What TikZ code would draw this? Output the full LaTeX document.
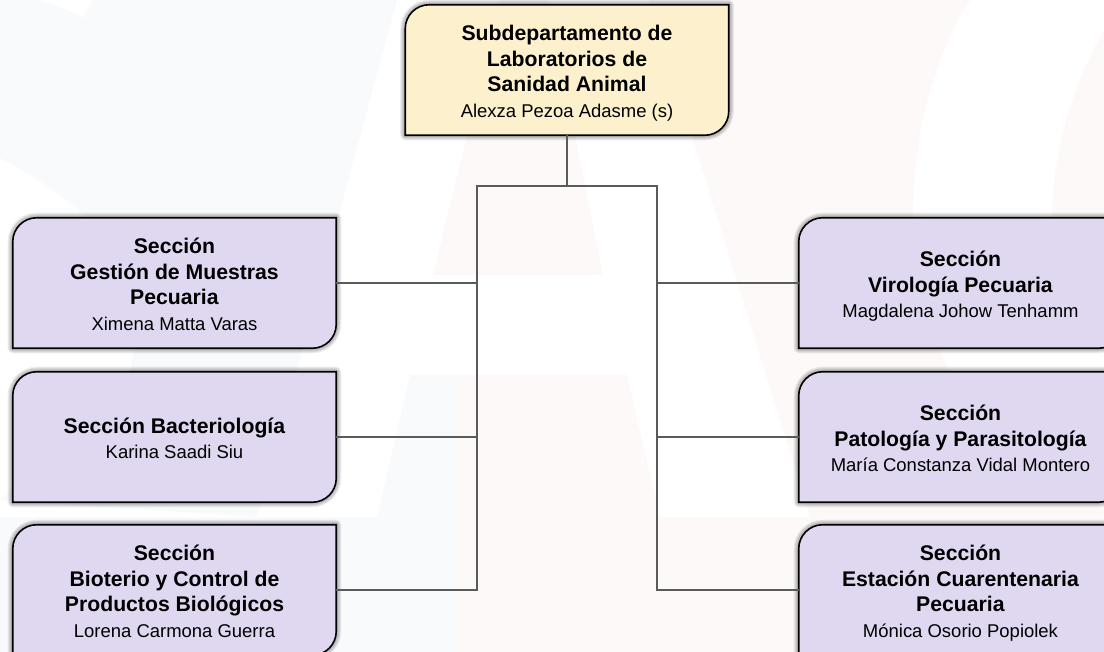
\documentclass[tikz,border=0pt]{standalone}
\usepackage{fontspec}
\setmainfont{Liberation Sans}
\usetikzlibrary{backgrounds}
\definecolor{lila}{HTML}{DFD8F0}
\definecolor{crema}{HTML}{FDF0CC}
\definecolor{linea}{HTML}{5A5A5A}
\definecolor{rosado}{HTML}{FDF9F8}
\definecolor{azulado}{HTML}{F9FAFC}
\tikzset{
  x=0.75pt,y=-0.75pt,
  orgbox/.style={minimum width=242.25pt,minimum height=97.5pt,align=center,inner sep=0pt,text=black,font=\fontsize{15.9pt}{19.2pt}\selectfont},
  conn/.style={draw=linea,line width=1.2pt},
  halo/.style={draw=black,opacity=.07,line cap=round,line join=round},
  caja/.style={draw=black,line width=1.2pt},
}
\newcommand{\nm}[1]{{\fontsize{13.85pt}{19.2pt}\selectfont #1\rule[-4pt]{0pt}{0pt}}}
\newcommand{\up}{\rule{0pt}{17.6pt}}
\newcommand{\shp}[1]{(#1.north east) -- ([yshift=18pt]#1.south east) arc[start angle=0,end angle=-90,radius=18pt] -- (#1.south west) -- ([yshift=-18pt]#1.north west) arc[start angle=180,end angle=90,radius=18pt] -- cycle}
\newcommand{\boxshape}[2]{%
  \begin{pgfonlayer}{background}
  \begin{scope}[xshift=-1.6pt,yshift=1pt]
  \foreach \w in {7.5,6,4.5,3}{\path[halo,line width=\w pt] \shp{#1};}
  \end{scope}
  \path[caja,fill=#2] \shp{#1};
  \end{pgfonlayer}}
\begin{document}
\begin{tikzpicture}
\useasboundingbox (0,0) rectangle (1104,652);
\clip (0,0) rectangle (1104,652);
\begin{pgfonlayer}{background}
\fill[white] (0,0) rectangle (1104,652);
% faint watermark
\fill[azulado] (0,0) -- (37,0) .. controls (55,5) and (70,11) .. (83,18) -- (93,0) -- (397,0) -- (257,517) -- (0,500) -- (60,440) .. controls (120,400) and (133,380) .. (133,350) .. controls (133,290) and (110,240) .. (85,215) .. controls (60,195) and (30,172) .. (0,158) -- cycle;
\fill[azulado] (410,375) -- (460,375) -- (460,652) -- (0,652) -- (0,517) -- (377,517) -- cycle;
\fill[rosado] (500,0) -- (548,0) -- (603,275) -- (433,275) -- cycle;
\fill[rosado] (460,375) -- (627,375) -- (660,517) -- (1104,517) -- (1104,652) -- (460,652) -- cycle;
\fill[rosado] (650,0) -- (970,0) .. controls (935,55) and (913,130) .. (913,220) .. controls (913,280) and (930,330) .. (950,372) -- (1104,500) -- (1104,517) -- (810,517) -- cycle;
\fill[rosado] (1104,30) .. controls (1075,80) and (1052,150) .. (1052,220) -- (1104,220) -- cycle;
\end{pgfonlayer}
\node[orgbox] (top) at (567,70) {\up\textbf{Subdepartamento de}\\\textbf{Laboratorios de}\\\textbf{Sanidad Animal}\\\nm{Alexza Pezoa Adasme (s)}};
\node[orgbox] (l1) at (174.5,283) {\up\textbf{Sección}\\\textbf{Gestión de Muestras}\\\textbf{Pecuaria}\\\nm{Ximena Matta Varas}};
\node[orgbox] (l2) at (174.5,437) {\up\textbf{Sección Bacteriología}\\\nm{Karina Saadi Siu}};
\node[orgbox] (l3) at (174.5,590) {\up\textbf{Sección}\\\textbf{Bioterio y Control de}\\\textbf{Productos Biológicos}\\\nm{Lorena Carmona Guerra}};
\node[orgbox] (r1) at (960.5,283) {\up\textbf{Sección}\\\textbf{Virología Pecuaria}\\\nm{Magdalena Johow Tenhamm}};
\node[orgbox] (r2) at (960.5,437) {\up\textbf{Sección}\\\textbf{Patología y Parasitología}\\\nm{María Constanza Vidal Montero}};
\node[orgbox] (r3) at (960.5,590) {\up\textbf{Sección}\\\textbf{Estación Cuarentenaria}\\\textbf{Pecuaria}\\\nm{Mónica Osorio Popiolek}};
\coordinate (bar) at (567,186);
\coordinate (tl) at (477,186);
\coordinate (tr) at (657,186);
\draw[conn] (top.south) -- (bar);
\draw[conn] (l3.east) -| (tl) -- (tr) |- (r3.west);
\draw[conn] (l1.east) -- (l1.east -| tl);
\draw[conn] (l2.east) -- (l2.east -| tl);
\draw[conn] (r1.west) -- (r1.west -| tr);
\draw[conn] (r2.west) -- (r2.west -| tr);
\boxshape{top}{crema}
\foreach \n in {l1,l2,l3,r1,r2,r3}{\boxshape{\n}{lila}}
\end{tikzpicture}
\end{document}
